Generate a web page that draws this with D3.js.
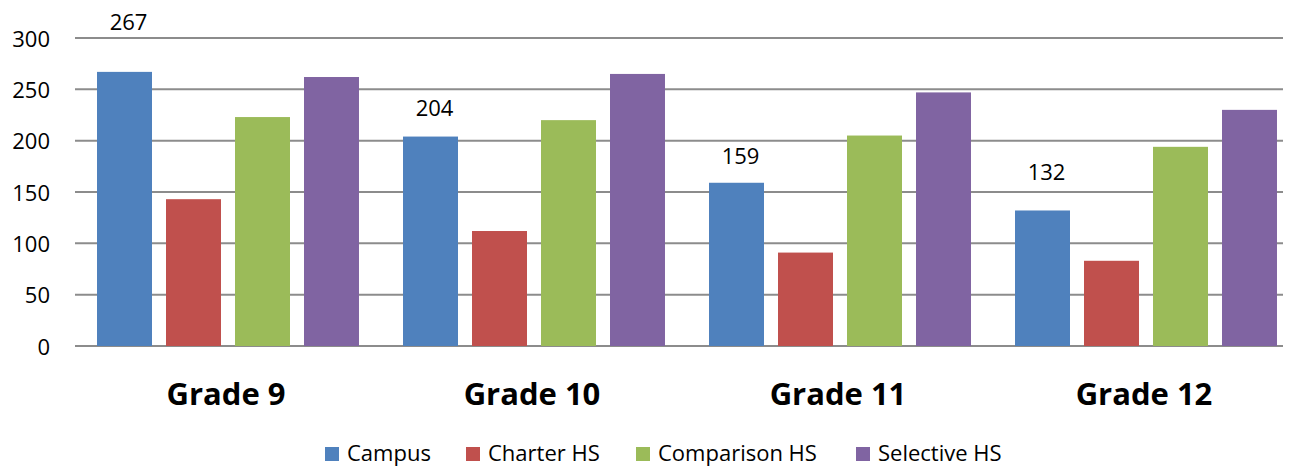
<!DOCTYPE html>
<html><head><meta charset="utf-8">
<script src="https://cdn.jsdelivr.net/npm/d3@7"></script>
<style>body{margin:0;background:#fff;} svg{display:block;font-family:"Open Sans",sans-serif;}</style>
</head><body>
<svg id="c" width="1289" height="467"></svg>
<script>
const categories = ["Grade 9","Grade 10","Grade 11","Grade 12"];
const seriesNames = ["Campus","Charter HS","Comparison HS","Selective HS"];
const campus = [267,204,159,132];
const charter = [143,112,91,83];
const comparison = [223,220,205,194];
const selective = [262,265,247,230];
const campusLabelAt = [308,224,177,162]; // data-label anchor (value units) as placed in source
const yTicks = [0,50,100,150,200,250,300];
const colors = ["#4F81BD","#C0504D","#9BBB59","#8064A2"];

(function(){
const series = [campus,charter,comparison,selective];
const svg = d3.select("#c");
const pL=75, pR=1283, pT=38, pB=346, bandEnd=1299;
const x0 = d3.scaleBand().domain(categories).range([pL,bandEnd]).paddingInner(0).paddingOuter(0);
const x1 = d3.scaleBand().domain(seriesNames).range([0,x0.bandwidth()]).paddingInner(0.203).paddingOuter(0.319);
const y = d3.scaleLinear().domain([0,300]).range([pB,pT]);

svg.append("g").selectAll("line").data(yTicks).join("line")
  .attr("x1",pL).attr("x2",pR).attr("y1",d=>y(d)).attr("y2",d=>y(d))
  .attr("stroke","#8c8c8c").attr("stroke-width",2);
svg.append("g").selectAll("text").data(yTicks).join("text")
  .attr("x",50).attr("y",d=>y(d)+8.5).attr("text-anchor","end")
  .attr("font-size",22).attr("fill","#000").text(d=>d);

categories.forEach((c,ci)=>{
  const g = svg.append("g").attr("transform",`translate(${x0(c)},0)`);
  g.selectAll("rect").data(seriesNames).join("rect")
    .attr("x",s=>x1(s)).attr("width",x1.bandwidth())
    .attr("y",(s,si)=>y(series[si][ci])).attr("height",(s,si)=>pB-y(series[si][ci]))
    .attr("fill",(s,si)=>colors[si]);
  g.append("text").attr("x",x1("Campus")+x1.bandwidth()/2+4).attr("y",y(campusLabelAt[ci]))
    .attr("text-anchor","middle").attr("font-size",22).text(campus[ci]);
});

svg.append("g").selectAll("text").data(categories).join("text")
  .attr("x",d=>x0(d)+x0.bandwidth()/2-2).attr("y",405).attr("text-anchor","middle")
  .attr("font-size",31).attr("font-weight","bold").text(d=>d);

const legX = [325,466,636,856];
const leg = svg.append("g");
seriesNames.forEach((s,i)=>{
  leg.append("rect").attr("x",legX[i]).attr("y",447).attr("width",14).attr("height",14).attr("fill",colors[i]);
  leg.append("text").attr("x",legX[i]+22).attr("y",461).attr("font-size",22).text(s);
});
})();
</script>
</body></html>
